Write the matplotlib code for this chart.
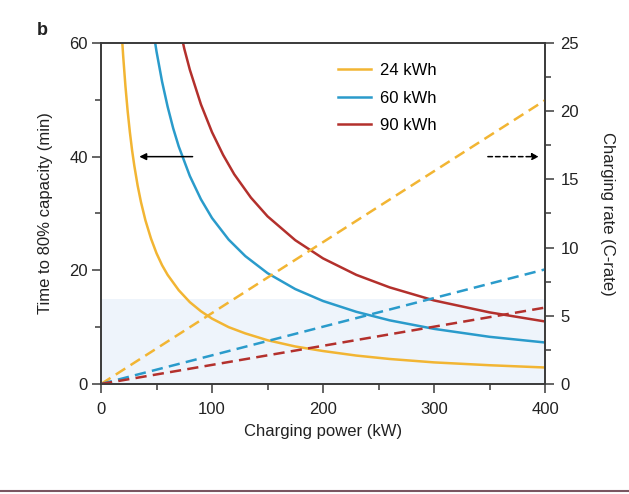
import matplotlib.pyplot as plt
from matplotlib.lines import Line2D
from matplotlib.ticker import MultipleLocator

plt.rcParams['font.family'] = ['Liberation Sans', 'DejaVu Sans']

# time to 80% capacity (min)
power_24 = [19, 20, 22, 24, 26, 28, 30, 33, 36, 40, 45, 50, 55, 60, 70, 80, 90, 100,
            115, 130, 150, 175, 200, 230, 260, 300, 350, 400]
time_24 = [60.6, 57.6, 52.4, 48.0, 44.3, 41.1, 38.4, 34.9, 32.0, 28.8, 25.6, 23.0, 20.9,
           19.2, 16.5, 14.4, 12.8, 11.5, 10.0, 8.9, 7.7, 6.6, 5.8, 5.0, 4.4, 3.8, 3.3, 2.9]

power_60 = [48, 50, 55, 60, 65, 70, 80, 90, 100, 115, 130, 150, 175, 200, 230, 260, 300, 350, 400]
time_60 = [61.0, 58.5, 53.2, 48.8, 45.0, 41.8, 36.6, 32.5, 29.2, 25.4, 22.5, 19.5, 16.7,
           14.6, 12.7, 11.2, 9.7, 8.3, 7.3]

power_90 = [73, 75, 80, 90, 100, 110, 120, 135, 150, 175, 200, 230, 260, 300, 350, 400]
time_90 = [60.8, 59.0, 55.3, 49.2, 44.3, 40.3, 36.9, 32.8, 29.5, 25.3, 22.1, 19.2, 17.0,
           14.7, 12.6, 11.0]

# charging rate (C-rate), straight lines from the origin
rate_power = [0, 400]
rate_24 = [0, 20.8]
rate_60 = [0, 8.4]
rate_90 = [0, 5.6]

labels = ['24 kWh', '60 kWh', '90 kWh']
colors = ['#F2B533', '#2A9BCB', '#B3302C']

fig = plt.figure(figsize=(6.29, 4.94), dpi=100)
ax = fig.add_axes([0.1606, 0.2227, 0.7059, 0.6903])
ax2 = ax.twinx()

ax.axhspan(0, 15, color='#EEF4FB', zorder=0, lw=0)

for p, t, c, lab in zip([power_24, power_60, power_90], [time_24, time_60, time_90], colors, labels):
    ax.plot(p, t, color=c, lw=1.8, label=lab)

for r, c in zip([rate_24, rate_60, rate_90], colors):
    ax2.plot(rate_power, r, color=c, lw=1.8, ls=(0, (4.5, 2.5)))

ax.set_xlim(0, 400)
ax.set_ylim(0, 60)
ax2.set_ylim(0, 25)

ax.xaxis.set_major_locator(MultipleLocator(100))
ax.xaxis.set_minor_locator(MultipleLocator(50))
ax.yaxis.set_major_locator(MultipleLocator(20))
ax.yaxis.set_minor_locator(MultipleLocator(10))
ax2.yaxis.set_major_locator(MultipleLocator(5))
ax2.yaxis.set_minor_locator(MultipleLocator(2.5))

spine_col = '#3a3a3a'
for a in (ax, ax2):
    for s in a.spines.values():
        s.set_color(spine_col)
        s.set_linewidth(1.2)
    a.tick_params(which='both', direction='out', width=1.1, color=spine_col,
                  labelsize=12, labelcolor='#222222')
    a.tick_params(which='major', length=6.5)
    a.tick_params(which='minor', length=4)
ax.tick_params(axis='x', pad=6.5)
ax.tick_params(axis='y', pad=3)
ax2.tick_params(axis='y', pad=4.5)

ax.set_xlabel('Charging power (kW)', fontsize=12, color='#222222', labelpad=5)
ax.set_ylabel('Time to 80% capacity (min)', fontsize=12, color='#222222', labelpad=12)
ax2.set_ylabel('Charging rate (C-rate)', fontsize=12, color='#222222', rotation=270, labelpad=26)

# arrows indicating which axis each line set belongs to
ax.annotate('', xy=(32, 40), xytext=(85, 40),
            arrowprops=dict(arrowstyle='-|>', color='black', lw=1.1, mutation_scale=10))
ax.annotate('', xy=(397, 40), xytext=(346, 40),
            arrowprops=dict(arrowstyle='-|>', color='black', lw=1.1, ls=(0, (3, 2)),
                            mutation_scale=10))

ax.legend(loc='upper left', bbox_to_anchor=(0.5, 0.985), frameon=False, fontsize=12,
          handlelength=2.0, labelspacing=0.75, handletextpad=0.5)

fig.text(0.058, 0.93, 'b', fontsize=13, fontweight='bold', color='#222222')
fig.add_artist(Line2D([0, 1], [0.007, 0.007], color='#7a5560', lw=1.5))

fig.savefig('out.png', dpi=100)
